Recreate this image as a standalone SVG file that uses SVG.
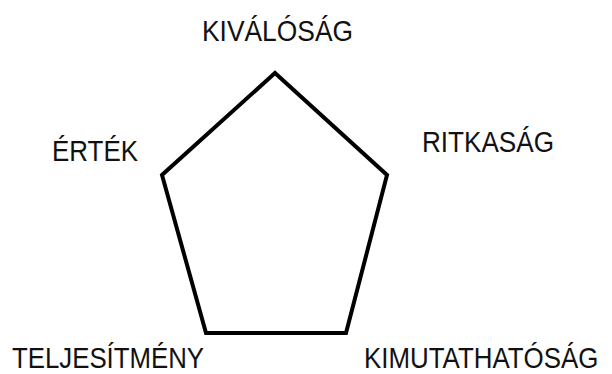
<svg xmlns="http://www.w3.org/2000/svg" width="612" height="374" viewBox="0 0 612 374">
<style>
.lbl{font-family:"Liberation Sans",Arial,sans-serif;font-size:30px;fill:#111}
.edge{fill:none;stroke:#000;stroke-width:4;stroke-linejoin:miter}
</style>
<rect width="612" height="374" fill="#fff"/>
<g id="connectors">
<polygon class="edge" points="275,73 387,175 346,333 206,333 162,175"/>
</g>
<g id="kivalosag"><text class="lbl" x="202" y="41" textLength="151" lengthAdjust="spacingAndGlyphs">KIVÁLÓSÁG</text></g>
<g id="ertek"><text class="lbl" x="52" y="161" textLength="86" lengthAdjust="spacingAndGlyphs">ÉRTÉK</text></g>
<g id="ritkasag"><text class="lbl" x="422" y="152" textLength="132" lengthAdjust="spacingAndGlyphs">RITKASÁG</text></g>
<g id="teljesitmeny"><text class="lbl" x="12" y="368" textLength="192" lengthAdjust="spacingAndGlyphs">TELJESÍTMÉNY</text></g>
<g id="kimutathatosag"><text class="lbl" transform="translate(364,368) scale(0.863,1)" x="0" y="0">KIMUTATHATÓSÁG</text></g>
</svg>
